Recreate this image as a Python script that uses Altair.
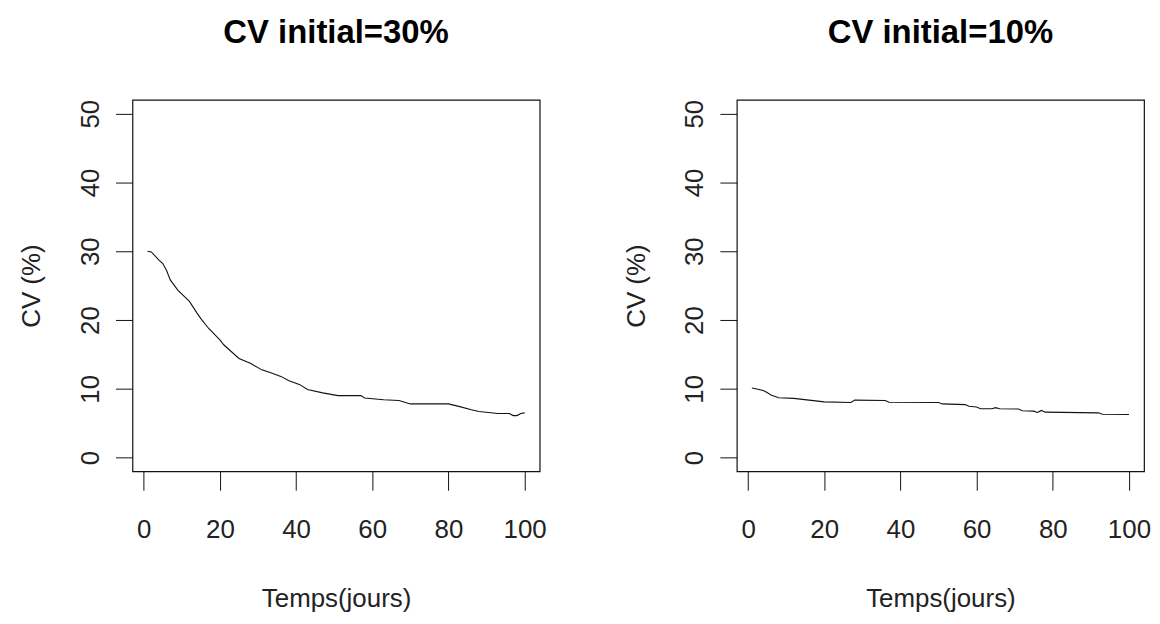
import altair as alt
import pandas as pd

days_30 = [1, 2, 4, 5, 6, 7, 9, 12, 14, 15, 17, 20, 21, 25, 28, 31, 33, 36, 38, 41, 43, 47, 51, 57, 58, 63, 67, 70, 80, 83, 86, 88, 93, 96, 97, 98, 99, 100]
cv_30 = [30.0, 29.9, 28.7, 28.2, 27.2, 25.8, 24.3, 22.7, 21.0, 20.2, 18.8, 17.1, 16.4, 14.4, 13.7, 12.75, 12.4, 11.8, 11.2, 10.6, 9.9, 9.4, 9.0, 9.0, 8.65, 8.4, 8.3, 7.8, 7.8, 7.4, 6.95, 6.7, 6.4, 6.4, 6.1, 6.1, 6.4, 6.5]

days_10 = [1, 2, 4, 5, 6, 8, 12, 16, 20, 27, 28, 36, 37, 50, 51, 57, 58, 60, 61, 64, 65, 66, 71, 72, 75, 76, 77, 78, 92, 93, 100]
cv_10 = [10.1, 10.0, 9.75, 9.45, 9.1, 8.7, 8.6, 8.35, 8.1, 8.0, 8.35, 8.3, 8.05, 8.0, 7.8, 7.7, 7.45, 7.35, 7.1, 7.1, 7.25, 7.1, 7.05, 6.8, 6.75, 6.55, 6.85, 6.6, 6.5, 6.3, 6.25]

titles = ["CV initial=30%", "CV initial=10%"]
x_ticks = [0, 20, 40, 60, 80, 100]
y_ticks = [0, 10, 20, 30, 40, 50]

FONT = "Liberation Sans"
TXT = "#222222"


def panel(days, vals, title):
    df = pd.DataFrame({"t": days, "cv": vals})
    return alt.Chart(df).mark_line(color="#111111", strokeWidth=1.1).encode(
        x=alt.X("t:Q",
                scale=alt.Scale(domain=[-2.96, 103.96], nice=False, zero=False),
                axis=alt.Axis(values=x_ticks, title="Temps(jours)", grid=False, domain=False,
                              tickSize=19, tickColor="#111", tickWidth=1,
                              labelFont=FONT, labelFontSize=26, labelColor=TXT,
                              labelPadding=26, labelBaseline="top",
                              titleFont=FONT, titleFontSize=26, titleFontWeight="normal",
                              titleColor=TXT, titlePadding=44)),
        y=alt.Y("cv:Q",
                scale=alt.Scale(domain=[-2.0, 52.0], nice=False, zero=False),
                axis=alt.Axis(values=y_ticks, title="CV (%)", grid=False, domain=False,
                              tickSize=17, tickColor="#111", tickWidth=1,
                              labelFont=FONT, labelFontSize=26, labelColor=TXT,
                              labelAngle=-90, labelAlign="center", labelBaseline="alphabetic",
                              labelPadding=17,
                              titleFont=FONT, titleFontSize=26, titleFontWeight="normal",
                              titleColor=TXT, titlePadding=33)),
    ).properties(
        width=409, height=373,
        title=alt.Title(title, font=FONT, fontSize=33, fontWeight="bold", color="#000",
                        anchor="middle", frame="group", offset=50),
    )


left = panel(days_30, cv_30, titles[0])
right = panel(days_10, cv_10, titles[1])

chart = alt.hconcat(left, right, spacing=75).properties(
    padding={"left": 10, "top": 6, "right": 0, "bottom": 0},
    background="white",
).configure_view(
    stroke="#111111", strokeWidth=1.2
)

chart.save("out.html", embed_options={"renderer": "svg", "actions": False})
